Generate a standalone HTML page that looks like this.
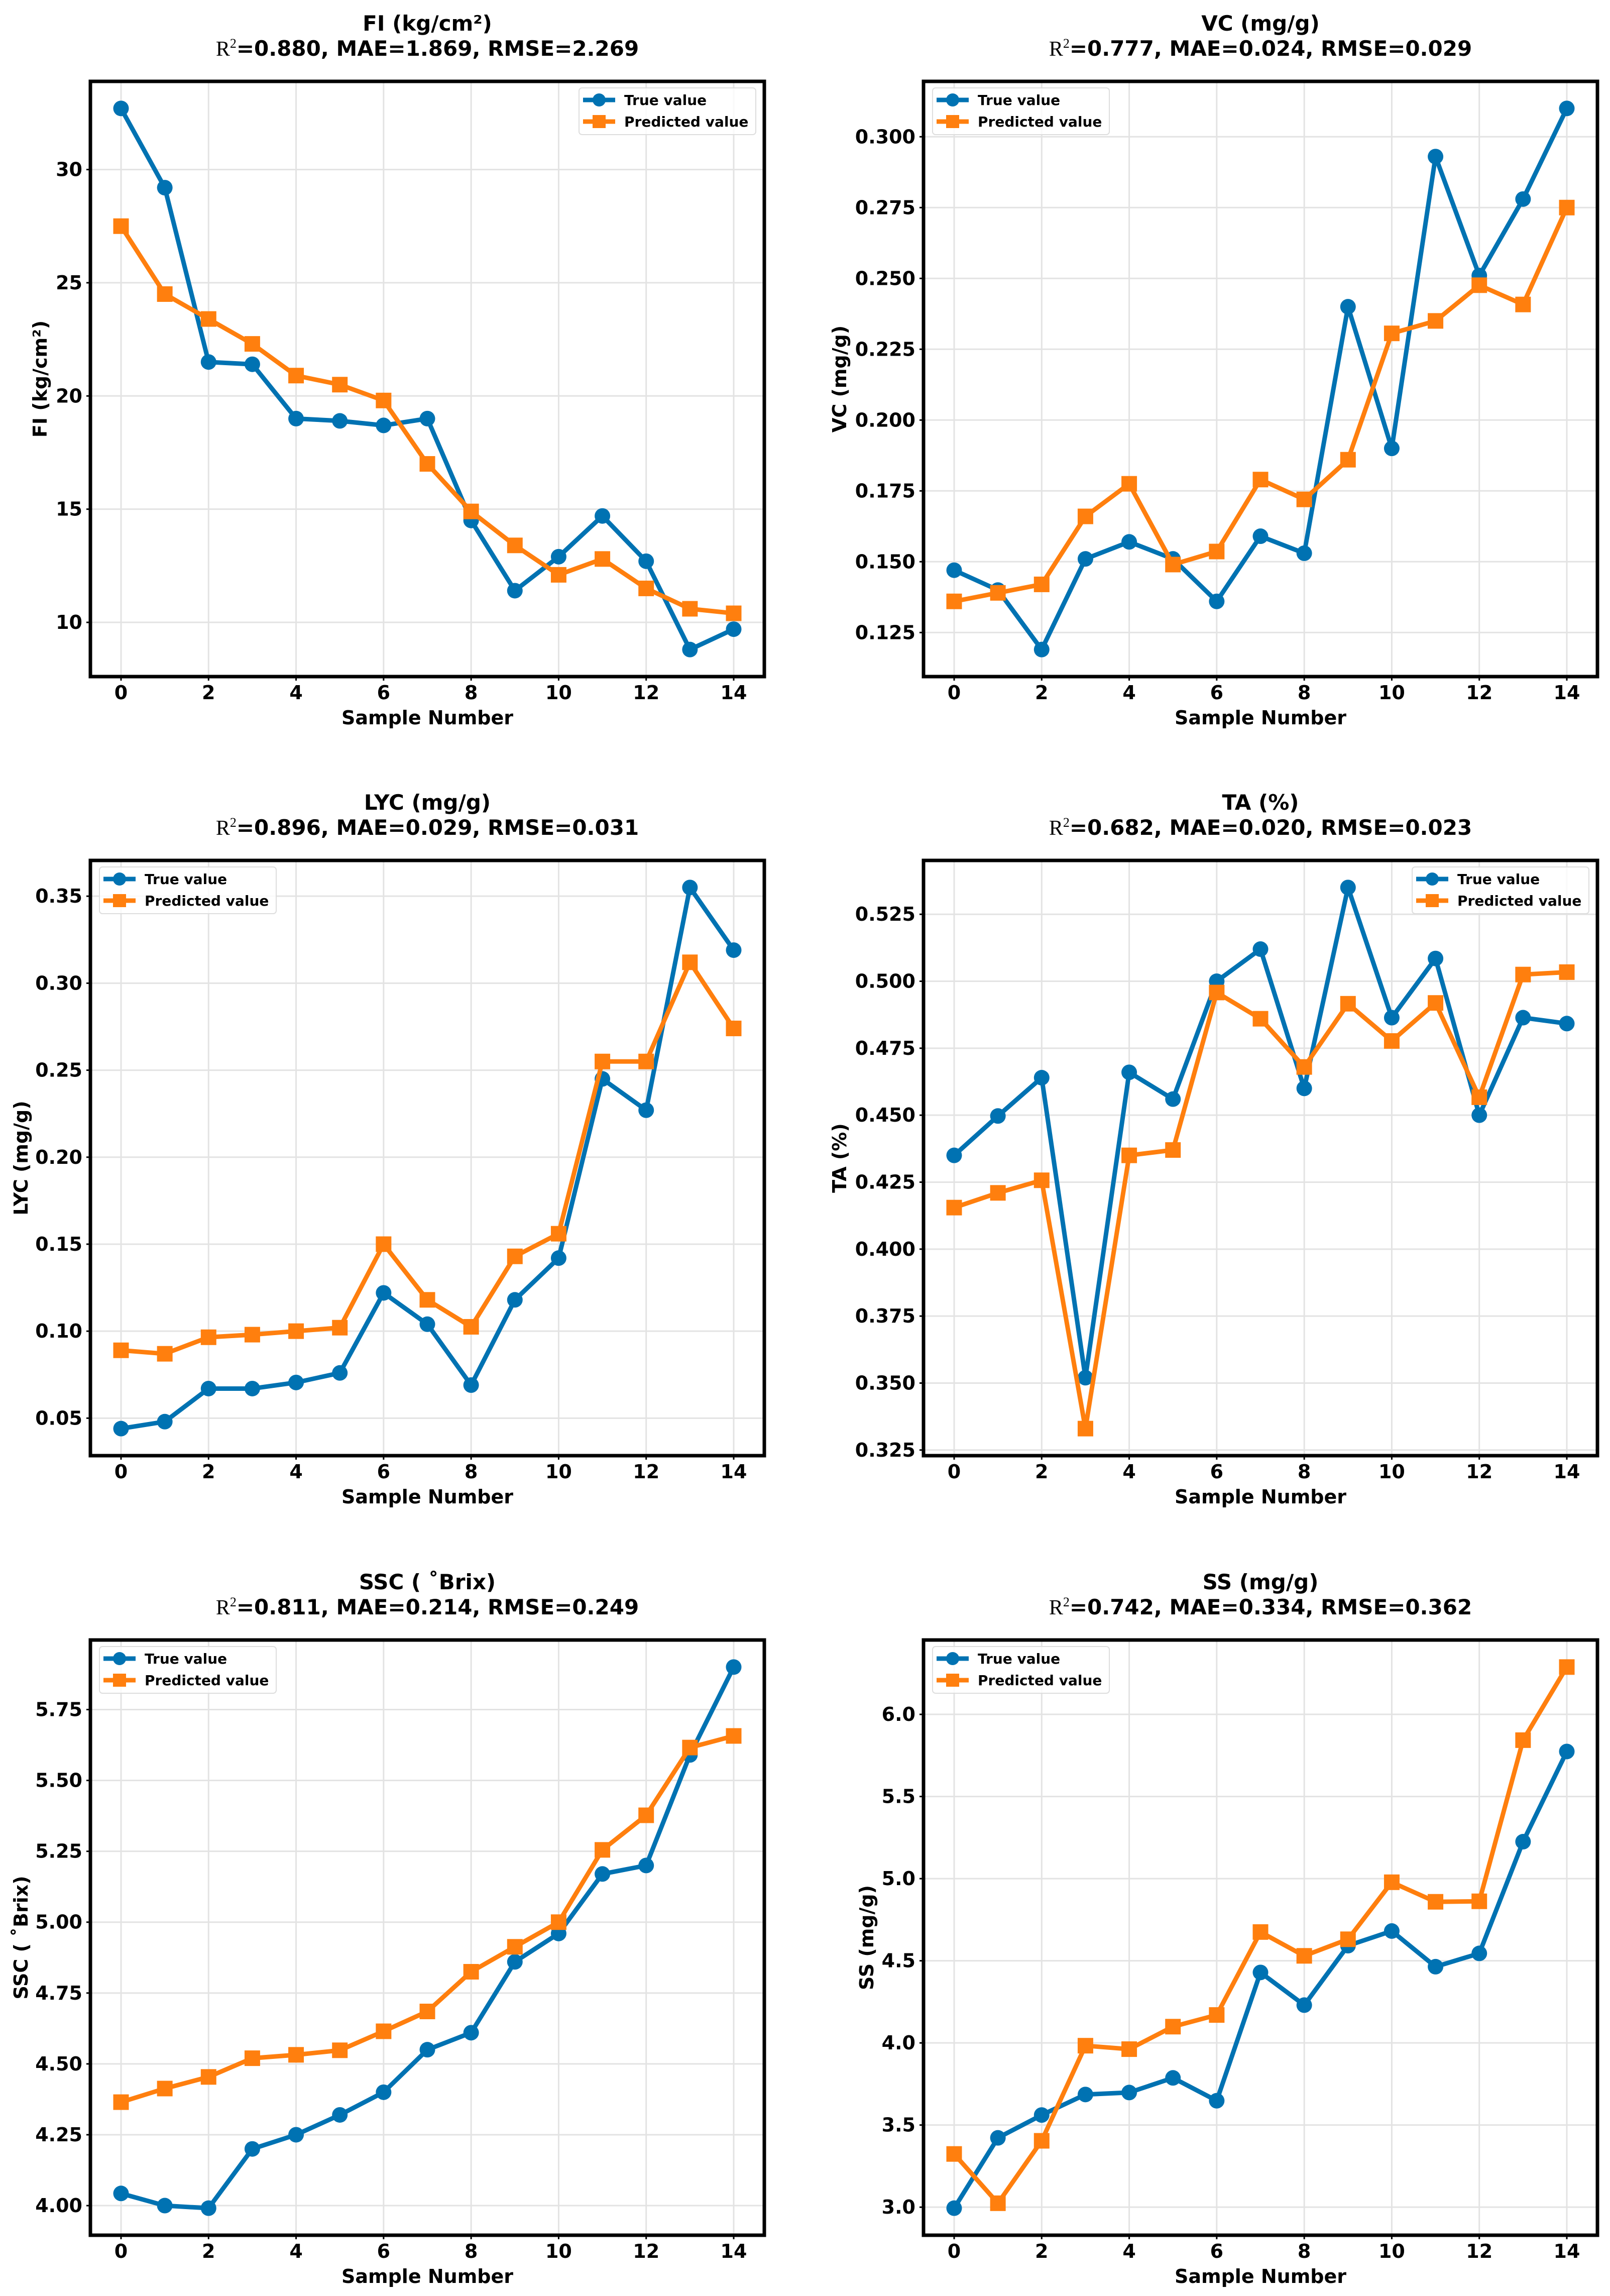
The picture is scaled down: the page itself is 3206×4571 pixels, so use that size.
<!DOCTYPE html>
<html><head><meta charset="utf-8"><style>
html,body{margin:0;padding:0;background:#fff;}
svg{display:block;font-family:"DejaVu Sans","Liberation Sans",sans-serif;font-weight:bold;}
</style></head><body>
<svg id="fig" width="3206" height="4571" viewBox="0 0 3206 4571" xmlns="http://www.w3.org/2000/svg"></svg>
<script>
const xCats = [0,1,2,3,4,5,6,7,8,9,10,11,12,13,14];
const xTickLabels = [0,2,4,6,8,10,12,14];

const fiTrue = [32.7,29.2,21.5,21.4,19.0,18.9,18.7,19.0,14.5,11.4,12.9,14.7,12.7,8.8,9.7];
const fiPred = [27.5,24.5,23.4,22.3,20.9,20.5,19.8,17.0,14.9,13.4,12.1,12.8,11.5,10.6,10.4];
const fiTicks = [10,15,20,25,30];

const vcTrue = [0.147,0.140,0.119,0.151,0.157,0.151,0.136,0.159,0.153,0.240,0.190,0.293,0.251,0.278,0.310];
const vcPred = [0.136,0.139,0.142,0.166,0.1775,0.149,0.1536,0.179,0.172,0.186,0.2306,0.235,0.2476,0.2408,0.275];
const vcTicks = [0.125,0.150,0.175,0.200,0.225,0.250,0.275,0.300];

const lycTrue = [0.044,0.048,0.067,0.067,0.0705,0.076,0.122,0.104,0.069,0.118,0.142,0.245,0.227,0.355,0.319];
const lycPred = [0.089,0.087,0.0965,0.098,0.100,0.102,0.150,0.118,0.1025,0.143,0.156,0.255,0.255,0.312,0.274];
const lycTicks = [0.05,0.10,0.15,0.20,0.25,0.30,0.35];

const taTrue = [0.435,0.4497,0.464,0.352,0.466,0.456,0.500,0.512,0.460,0.535,0.4864,0.5085,0.450,0.4864,0.4842];
const taPred = [0.4155,0.421,0.4257,0.333,0.435,0.437,0.4958,0.486,0.468,0.4916,0.4777,0.4919,0.4567,0.5025,0.5034];
const taTicks = [0.325,0.350,0.375,0.400,0.425,0.450,0.475,0.500,0.525];

const sscTrue = [4.043,4.00,3.991,4.20,4.25,4.32,4.40,4.55,4.61,4.86,4.96,5.17,5.20,5.59,5.90];
const sscPred = [4.365,4.413,4.454,4.52,4.532,4.548,4.615,4.685,4.825,4.913,5.00,5.255,5.377,5.616,5.657];
const sscTicks = [4.00,4.25,4.50,4.75,5.00,5.25,5.50,5.75];

const ssTrue = [2.994,3.422,3.561,3.686,3.698,3.787,3.648,4.429,4.230,4.592,4.681,4.464,4.545,5.225,5.774];
const ssPred = [3.324,3.024,3.404,3.983,3.962,4.099,4.170,4.675,4.530,4.631,4.978,4.859,4.862,5.843,6.288];
const ssTicks = [3.0,3.5,4.0,4.5,5.0,5.5,6.0];

const NS = "http://www.w3.org/2000/svg";
const svg = document.getElementById('fig');
const BLUE = "#0072B2", ORANGE = "#FF7F0E";
const W = 1342, H = 1185;

function mk(tag, attrs, parent){
  const e = document.createElementNS(NS, tag);
  for (const k in attrs) e.setAttribute(k, attrs[k]);
  (parent||svg).appendChild(e);
  return e;
}

const panels = [
  {key:'fi', x:180, y:162, title:'FI (kg/cm²)', ylabel:'FI (kg/cm²)', r2:'0.880', mae:'1.869', rmse:'2.269', t:fiTrue, p:fiPred, ticks:fiTicks, dec:0, ylx:80, legend:'right'},
  {key:'vc', x:1839, y:162, title:'VC (mg/g)', ylabel:'VC (mg/g)', r2:'0.777', mae:'0.024', rmse:'0.029', t:vcTrue, p:vcPred, ticks:vcTicks, dec:3, ylx:1672, legend:'left'},
  {key:'lyc', x:180, y:1713, title:'LYC (mg/g)', ylabel:'LYC (mg/g)', r2:'0.896', mae:'0.029', rmse:'0.031', t:lycTrue, p:lycPred, ticks:lycTicks, dec:2, ylx:42, legend:'left'},
  {key:'ta', x:1839, y:1713, title:'TA (%)', ylabel:'TA (%)', r2:'0.682', mae:'0.020', rmse:'0.023', t:taTrue, p:taPred, ticks:taTicks, dec:3, ylx:1672, legend:'right'},
  {key:'ssc', x:180, y:3265, title:'SSC ( ˚Brix)', ylabel:'SSC ( ˚Brix)', r2:'0.811', mae:'0.214', rmse:'0.249', t:sscTrue, p:sscPred, ticks:sscTicks, dec:2, ylx:42, legend:'left'},
  {key:'ss', x:1839, y:3265, title:'SS (mg/g)', ylabel:'SS (mg/g)', r2:'0.742', mae:'0.334', rmse:'0.362', t:ssTrue, p:ssPred, ticks:ssTicks, dec:1, ylx:1726, legend:'left'}
];

panels.forEach(P => {
  const g = mk('g', {});
  
  
  const all = P.t.concat(P.p);
  const mn = Math.min(...all), mx = Math.max(...all), rg = mx - mn;
  const y0 = mn - 0.05*rg, y1 = mx + 0.05*rg;
  const sx = v => P.x + (v + 0.7) / 15.4 * W;
  const sy = v => P.y + H - (v - y0) / (y1 - y0) * H;

  xTickLabels.forEach(v => {
    const l = mk('line', {x1:sx(v), x2:sx(v), y1:P.y, y2:P.y+H, stroke:'#e3e3e3', 'stroke-width':3}, g);
    
    
  });
  P.ticks.forEach(v => {
    const l = mk('line', {x1:P.x, x2:P.x+W, y1:sy(v), y2:sy(v), stroke:'#e3e3e3', 'stroke-width':3}, g);
    
    
  });

  [[P.t, BLUE, 'true'], [P.p, ORANGE, 'pred']].forEach(([arr, col, nm]) => {
    const pts = arr.map((v,i) => sx(xCats[i]) + ',' + sy(v)).join(' ');
    const pl = mk('polyline', {points:pts, fill:'none', stroke:col, 'stroke-width':9, 'stroke-linejoin':'round'}, g);
    
    
    arr.forEach((v,i) => {
      let m;
      if (nm === 'true') m = mk('circle', {cx:sx(xCats[i]), cy:sy(v), r:15.5, fill:col}, g);
      else m = mk('rect', {x:sx(xCats[i])-15.5, y:sy(v)-15.5, width:31, height:31, fill:col}, g);
      
      
    });
  });

  const fr = mk('rect', {x:P.x, y:P.y, width:W, height:H, fill:'none', stroke:'#000', 'stroke-width':7}, g);
  
  

  xTickLabels.forEach(v => {
    mk('line', {x1:sx(v), x2:sx(v), y1:P.y+H, y2:P.y+H+8, stroke:'#000', 'stroke-width':3}, g);
    const t = mk('text', {x:sx(v), y:P.y+H+45, 'text-anchor':'middle', 'font-size':38}, g);
    t.textContent = v;
    
    
  });
  P.ticks.forEach(v => {
    mk('line', {x1:P.x-8, x2:P.x, y1:sy(v), y2:sy(v), stroke:'#000', 'stroke-width':3}, g);
    const t = mk('text', {x:P.x-16, y:sy(v)+13, 'text-anchor':'end', 'font-size':38}, g);
    t.textContent = v.toFixed(P.dec);
    
    
  });

  const xl = mk('text', {x:P.x+W/2, y:P.y+H+95, 'text-anchor':'middle', 'font-size':38}, g);
  xl.textContent = 'Sample Number';
  
  
  const yl = mk('text', {x:0, y:0, 'text-anchor':'middle', 'font-size':38, transform:'translate(' + (P.ylx+13) + ',' + (P.y+H/2) + ') rotate(-90)'}, g);
  yl.textContent = P.ylabel;
  
  

  const t1 = mk('text', {x:P.x+W/2, y:P.y-101, 'text-anchor':'middle', 'font-size':42}, g);
  t1.textContent = P.title;
  
  
  const t2 = mk('text', {x:P.x+W/2, y:P.y-51, 'text-anchor':'middle', 'font-size':42}, g);
  
  
  const a = mk('tspan', {'font-family':'Liberation Serif, serif', 'font-weight':'normal'}, t2); a.textContent = 'R';
  const b = mk('tspan', {'font-family':'Liberation Serif, serif', 'font-weight':'normal', 'font-size':26, dy:-16}, t2); b.textContent = '2';
  const c = mk('tspan', {dy:16}, t2); c.textContent = '=' + P.r2 + ', MAE=' + P.mae + ', RMSE=' + P.rmse;

  const lw = 352, lh = 93;
  const lx = P.legend === 'right' ? P.x + W - 17 - lw : P.x + 18;
  const ly = P.y + 13;
  const lg = mk('g', {}, g);
  
  
  mk('rect', {x:lx, y:ly, width:lw, height:lh, rx:6, fill:'#fff', 'fill-opacity':0.8, stroke:'#dddddd', 'stroke-width':2}, lg);
  [['True value', BLUE, 0], ['Predicted value', ORANGE, 1]].forEach(([lab, col, i]) => {
    const cy = ly + 24 + i*43;
    const e = mk('g', {}, lg);
    
    
    mk('line', {x1:lx+8, x2:lx+72, y1:cy, y2:cy, stroke:col, 'stroke-width':9}, e);
    if (i === 0) mk('circle', {cx:lx+40, cy:cy, r:13, fill:col}, e);
    else mk('rect', {x:lx+27, y:cy-13, width:26, height:26, fill:col}, e);
    const t = mk('text', {x:lx+90, y:cy+10, 'font-size':28}, e);
    t.textContent = lab;
  });
});
</script>
</body></html>
